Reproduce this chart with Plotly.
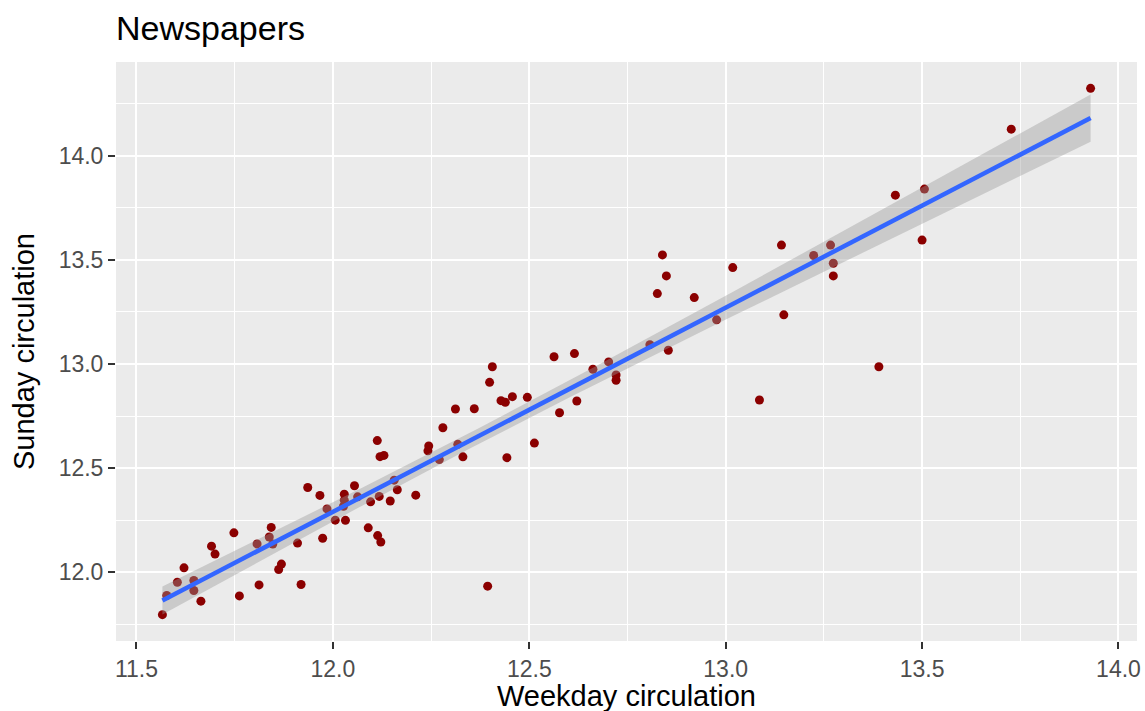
import numpy as np
import plotly.graph_objects as go

weekday = [11.566, 11.577, 11.604, 11.621, 11.646, 11.646, 11.664, 11.691, 11.700, 11.748,
           11.762, 11.807, 11.812, 11.838, 11.843, 11.847, 11.862, 11.869, 11.910, 11.919,
           11.936, 11.967, 11.974, 11.985, 12.006, 12.029, 12.029, 12.027, 12.032, 12.055,
           12.063, 12.090, 12.096, 12.114, 12.122, 12.118, 12.113, 12.120, 12.130, 12.146,
           12.156, 12.164, 12.211, 12.242, 12.244, 12.271, 12.280, 12.312, 12.318, 12.331,
           12.360, 12.394, 12.399, 12.406, 12.428, 12.439, 12.457, 12.443, 12.495, 12.513,
           12.563, 12.577, 12.615, 12.621, 12.662, 12.702, 12.721, 12.721, 12.807, 12.826,
           12.839, 12.849, 12.854, 12.920, 12.977, 13.018, 13.086, 13.142, 13.148, 13.224,
           13.267, 13.274, 13.274, 13.390, 13.432, 13.506, 13.500, 13.727, 13.929]
sunday = [11.796, 11.888, 11.952, 12.021, 11.960, 11.912, 11.861, 12.125, 12.087, 12.189,
          11.886, 12.136, 11.939, 12.169, 12.215, 12.135, 12.013, 12.039, 12.140, 11.941,
          12.407, 12.369, 12.163, 12.304, 12.250, 12.375, 12.346, 12.317, 12.249, 12.415,
          12.362, 12.213, 12.338, 12.176, 12.145, 12.364, 12.632, 12.555, 12.561, 12.342,
          12.442, 12.396, 12.370, 12.583, 12.606, 12.541, 12.694, 12.784, 12.614, 12.554,
          12.785, 11.933, 12.912, 12.987, 12.824, 12.816, 12.843, 12.550, 12.840, 12.620,
          13.035, 12.766, 13.050, 12.822, 12.975, 13.010, 12.947, 12.922, 13.093, 13.338,
          13.524, 13.423, 13.066, 13.319, 13.212, 13.463, 12.827, 13.571, 13.236, 13.521,
          13.571, 13.484, 13.423, 12.987, 13.811, 13.840, 13.595, 14.128, 14.324]

x_ticks = [11.5, 12.0, 12.5, 13.0, 13.5, 14.0]
y_ticks = [12.0, 12.5, 13.0, 13.5, 14.0]

x = np.array(weekday)
y = np.array(sunday)
n = len(x)
b1, b0 = np.polyfit(x, y, 1)
resid = y - (b0 + b1 * x)
s = np.sqrt(np.sum(resid ** 2) / (n - 2))
xbar = x.mean()
sxx = np.sum((x - xbar) ** 2)
t_crit = 1.9876
xs = np.linspace(x.min(), x.max(), 80)
fit = b0 + b1 * xs
se = s * np.sqrt(1.0 / n + (xs - xbar) ** 2 / sxx)
lo = fit - t_crit * se
hi = fit + t_crit * se

def expand(v):
    span = max(v) - min(v)
    return [min(v) - 0.05 * span, max(v) + 0.05 * span]

FONT = "Liberation Sans, Arial, Helvetica, sans-serif"

fig = go.Figure()
fig.add_trace(go.Scatter(x=weekday, y=sunday, mode="markers",
                         marker=dict(color="#8B0000", size=9, line=dict(width=0)),
                         showlegend=False, hoverinfo="x+y"))
fig.add_trace(go.Scatter(x=xs, y=lo, mode="lines", line=dict(width=0),
                         showlegend=False, hoverinfo="skip"))
fig.add_trace(go.Scatter(x=xs, y=hi, mode="lines", line=dict(width=0),
                         fill="tonexty", fillcolor="rgba(153,153,153,0.4)",
                         showlegend=False, hoverinfo="skip"))
fig.add_trace(go.Scatter(x=xs, y=fit, mode="lines",
                         line=dict(color="#3366FF", width=4.5),
                         showlegend=False, hoverinfo="skip"))

axis_common = dict(
    showgrid=True, gridcolor="white", gridwidth=2.1,
    zeroline=False, showline=False, automargin=False,
    ticks="outside", ticklen=7, tickwidth=2, tickcolor="#333333",
    tickfont=dict(family=FONT, size=23, color="#4D4D4D"),
    tickformat=".1f",
    minor=dict(dtick=0.25, showgrid=True, gridcolor="white", gridwidth=1.05, ticks=""),
)

fig.update_layout(
    width=1145, height=711,
    margin=dict(l=116, r=8, t=62, b=70, autoexpand=False),
    paper_bgcolor="white", plot_bgcolor="#EBEBEB",
    title=dict(text="Newspapers", x=0, xref="paper", xanchor="left",
               y=0.977, yref="container", yanchor="top",
               font=dict(family=FONT, size=34, color="black")),
    xaxis=dict(axis_common, range=expand(weekday), tickvals=x_ticks),
    yaxis=dict(axis_common, range=expand(sunday), tickvals=y_ticks,
               title=dict(text="Sunday circulation", standoff=15,
                          font=dict(family=FONT, size=29, color="black"))),
    annotations=[dict(text="Weekday circulation", xref="paper", yref="paper",
                      x=0.5, y=0, xanchor="center", yanchor="top", yshift=-37,
                      showarrow=False,
                      font=dict(family=FONT, size=29, color="black"))],
)

fig.write_html("out.html", config={"displayModeBar": False},
               post_script="document.body.style.margin='0';document.body.style.overflow='hidden';")
